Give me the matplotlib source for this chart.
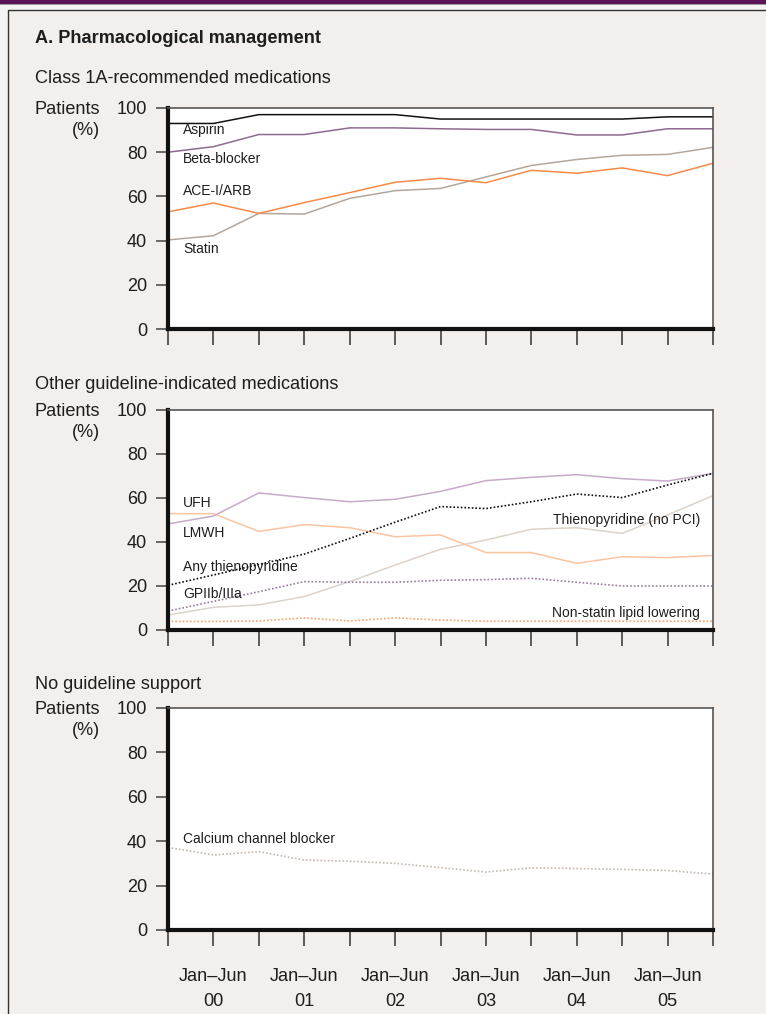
import matplotlib.pyplot as plt
import matplotlib.patches as mpatches
import numpy as np

plt.rcParams['font.family'] = ['Liberation Sans', 'DejaVu Sans']

W, H = 766, 1014

# half-year periods, Jul-Dec 99 .. Jul-Dec 05
periods = np.arange(13)
label_pos = [1, 3, 5, 7, 9, 11]
period_labels = ['Jan–Jun\n00', 'Jan–Jun\n01', 'Jan–Jun\n02',
                 'Jan–Jun\n03', 'Jan–Jun\n04', 'Jan–Jun\n05']

# Class 1A-recommended medications (% of patients)
aspirin = [93, 93, 97, 97, 97, 97, 95, 95, 95, 95, 95, 96, 96]
beta_blocker = [80, 82.5, 88, 88, 91, 91, 90.6, 90.3, 90.3, 87.8, 87.8, 90.6, 90.6]
ace_arb = [53, 57, 52.3, 57.2, 61.7, 66.4, 68.2, 66.2, 71.8, 70.5, 72.9, 69.4, 75]
statin = [40.3, 42.2, 52.3, 52, 59.1, 62.6, 63.6, 68.8, 74, 76.7, 78.6, 79, 82.2]

# Other guideline-indicated medications
ufh = [48.2, 51.8, 62.3, 60.2, 58.3, 59.4, 63, 67.9, 69.4, 70.6, 68.8, 67.7, 71.2]
lmwh = [52.9, 52.9, 44.8, 47.9, 46.5, 42.4, 43.2, 35.2, 35.2, 30.3, 33.3, 32.9, 33.9]
any_thieno = [20.3, 25, 29.8, 34.5, 41.6, 49, 56.1, 55.2, 58.3, 61.8, 60.2, 65.9, 71.2]
gp2b3a = [8.6, 13, 17.4, 22, 21.7, 21.7, 22.6, 22.9, 23.5, 21.7, 20, 20, 20]
thieno_no_pci = [6.8, 10.3, 11.4, 15.2, 22, 29.5, 36.7, 40.9, 45.8, 46.5, 43.9, 52.3, 61.1]
non_statin = [3.9, 3.9, 4.1, 5.5, 4.1, 5.5, 4.5, 4, 4, 4, 4, 4, 4]

# No guideline support
ccb = [37.2, 33.8, 35.3, 31.5, 31, 30, 28.1, 26.1, 28, 27.7, 27.3, 26.8, 25.2]


def fx(x):
    return x / W


def fy(y):
    return 1 - y / H


fig = plt.figure(figsize=(W / 100, H / 100), dpi=100, facecolor='#f4f4f4')

# header band and panel frame, kept behind the axes
fig.patches.append(mpatches.Rectangle((0, fy(4)), 1, 4 / H, transform=fig.transFigure,
                                      facecolor='#5a1457', edgecolor='none', zorder=-10))
fig.patches.append(mpatches.Rectangle((0, fy(5)), 1, 1 / H, transform=fig.transFigure,
                                      facecolor='#9a9a9a', edgecolor='none', zorder=-10))
fig.patches.append(mpatches.Rectangle((fx(8), -0.01), 1, fy(10) + 0.01, transform=fig.transFigure,
                                      facecolor='#f2efec', edgecolor='#333333', linewidth=1.0,
                                      zorder=-10))

txt = '#1e1e1e'
big = 13.1
small = 10

fig.text(fx(35), fy(43), 'A. Pharmacological management', fontsize=big,
         fontweight='bold', color=txt, va='baseline')

panels = [
    ('Class 1A-recommended medications', 83, 108, 329),
    ('Other guideline-indicated medications', 389, 410, 630),
    ('No guideline support', 689, 708, 930),
]

axes = []
for title, ty, top, bot in panels:
    fig.text(fx(35), fy(ty), title, fontsize=big, color=txt, va='baseline')
    fig.text(fx(35), fy(top + 6), 'Patients', fontsize=big, color=txt, va='baseline')
    fig.text(fx(100), fy(top + 27), '(%)', fontsize=big, color=txt, va='baseline', ha='right')
    ax = fig.add_axes([fx(168), fy(bot), fx(713) - fx(168), (bot - top) / H])
    ax.set_facecolor('white')
    ax.set_xlim(0, 12)
    ax.set_ylim(0, 100)
    ax.set_yticks([0, 20, 40, 60, 80, 100])
    ax.set_xticks(label_pos)
    ax.set_xticks(periods[::2], minor=True)
    ax.set_xticklabels([])
    for side in ['left', 'bottom']:
        ax.spines[side].set_linewidth(3.0)
        ax.spines[side].set_color('#111111')
    for side in ['top', 'right']:
        ax.spines[side].set_linewidth(1.2)
        ax.spines[side].set_color('#555555')
    ax.tick_params(axis='y', length=8.6, width=1.1, color='#444444', pad=6.5,
                   labelsize=big, labelcolor=txt)
    ax.tick_params(axis='x', which='both', length=11.5, width=1.1, color='#333333',
                   pad=16, labelsize=big, labelcolor=txt)
    axes.append(ax)

ax1, ax2, ax3 = axes

# Class 1A panel
ax1.plot(periods, aspirin, color='#111111', lw=1.1)
ax1.plot(periods, beta_blocker, color='#8e6a91', lw=1.1)
ax1.plot(periods, statin, color='#b3a79d', lw=1.1)
ax1.plot(periods, ace_arb, color='#f58a4b', lw=1.1)
lx = (183 - 168) / 45.42
ax1.text(lx, 88.2, 'Aspirin', fontsize=small, color=txt)
ax1.text(lx, 75.1, 'Beta-blocker', fontsize=small, color=txt)
ax1.text(lx, 60.6, 'ACE-I/ARB', fontsize=small, color=txt)
ax1.text(lx, 34.2, 'Statin', fontsize=small, color=txt)

# other guideline-indicated panel
ax2.plot(periods, thieno_no_pci, color='#dcd2ca', lw=1.1)
ax2.plot(periods, lmwh, color='#fac4a0', lw=1.1)
ax2.plot(periods, ufh, color='#c8a9cb', lw=1.1)
ax2.plot(periods, gp2b3a, color='#9a7a9e', lw=1.2, linestyle=(0, (1, 1.2)))
ax2.plot(periods, non_statin, color='#f7a26e', lw=1.2, linestyle=(0, (1, 1.2)))
ax2.plot(periods, any_thieno, color='#111111', lw=1.2, linestyle=(0, (1, 1.2)))
ax2.text(lx, 55.8, 'UFH', fontsize=small, color=txt)
ax2.text(lx, 42.4, 'LMWH', fontsize=small, color=txt)
ax2.text(lx, 26.7, 'Any thienopyridine', fontsize=small, color=txt)
ax2.text(lx, 14.4, 'GPIIb/IIIa', fontsize=small, color=txt)
rx = (700 - 168) / 45.42
ax2.text(rx, 48.2, 'Thienopyridine (no PCI)', fontsize=small, color=txt, ha='right')
ax2.text(rx, 6.1, 'Non-statin lipid lowering', fontsize=small, color=txt, ha='right')

# no guideline support panel
ax3.plot(periods, ccb, color='#c5b8b0', lw=1.2, linestyle=(0, (1, 1.2)))
ax3.text(lx, 39.3, 'Calcium channel blocker', fontsize=small, color=txt)
ax3.set_xticklabels(period_labels)
for lbl in ax3.get_xticklabels():
    lbl.set_linespacing(1.6)

fig.savefig('out.png', dpi=100, facecolor=fig.get_facecolor())
